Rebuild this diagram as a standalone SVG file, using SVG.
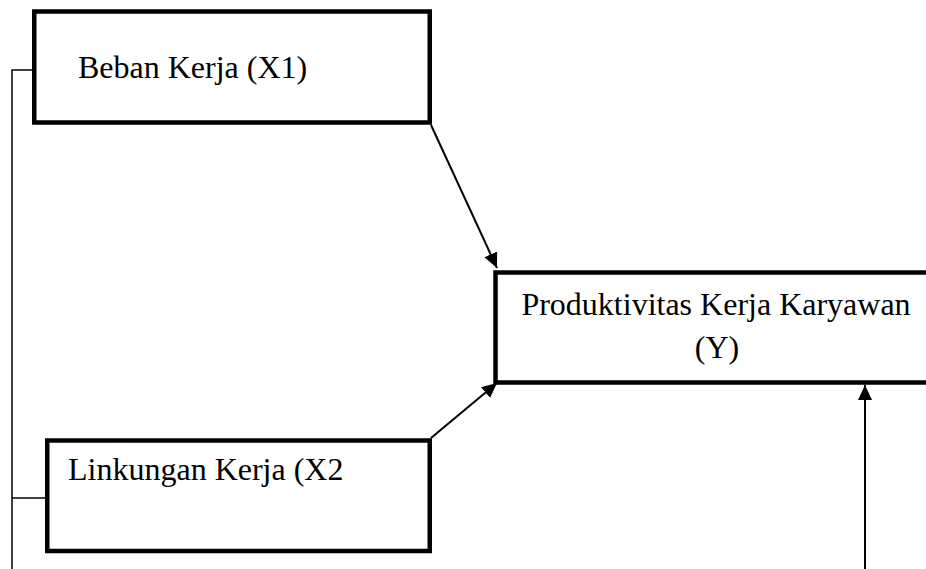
<svg xmlns="http://www.w3.org/2000/svg" width="926" height="569" viewBox="0 0 926 569">
<style>
.box{fill:#fff;stroke:#000;stroke-width:4.5}
.lbl{font-family:"Liberation Serif","Times New Roman",serif;font-size:24px;fill:#000}
.conn{stroke:#000;stroke-width:2;fill:none}
.thin{stroke:#000;stroke-width:1.5;fill:none}
</style>
<defs>
<marker id="ah" markerUnits="userSpaceOnUse" markerWidth="16" markerHeight="14" refX="15" refY="7" orient="auto">
<path d="M0,0 L15,7 L0,14 Z" fill="#000"/>
</marker>
</defs>
<g id="connectors">
<path class="thin" d="M12,569 L12,70 L32,70"/>
<path class="thin" d="M12,498 L45,498"/>
<line class="conn" x1="431" y1="125" x2="497" y2="268" marker-end="url(#ah)"/>
<line class="conn" x1="431" y1="438" x2="497" y2="383" marker-end="url(#ah)"/>
<line class="conn" x1="865" y1="569" x2="865" y2="385" marker-end="url(#ah)"/>
</g>
<g id="x1">
<rect class="box" x="34.25" y="11.5" width="395.5" height="111"/>
<text class="lbl" x="78" y="78" style="font-size:32px">Beban Kerja (X1)</text>
</g>
<g id="y">
<path class="box" d="M935,272.5 L495.5,272.5 L495.5,382.5 L935,382.5"/>
<text class="lbl" text-anchor="middle" style="font-size:32px" x="716" y="315">Produktivitas Kerja Karyawan</text>
<text class="lbl" text-anchor="middle" style="font-size:32px" x="717" y="358">(Y)</text>
</g>
<g id="x2">
<rect class="box" x="47.25" y="440.5" width="382.5" height="110.5"/>
<text class="lbl" x="68" y="480" style="font-size:32px">Linkungan Kerja (X2</text>
</g>
</svg>
